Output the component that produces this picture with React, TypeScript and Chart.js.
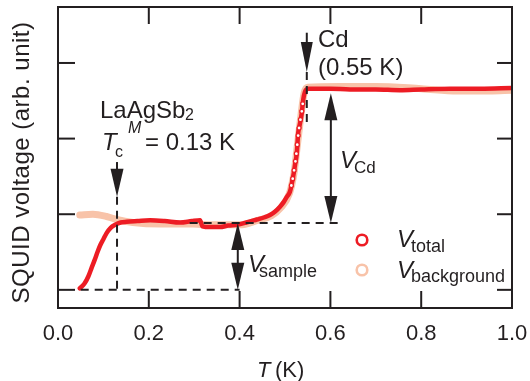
import React, { useEffect, useRef } from "react";
import { Chart, registerables } from "chart.js";

Chart.register(...registerables);

const FONT = '"Liberation Sans", Arial, Helvetica, sans-serif';
const INK = "#231f20";
const RED = "#ed1c24";
const SALMON = "#f8c3a9";

// x tick values (K) and y tick positions (arb. unit, unlabeled)
const xTicks = [0, 0.2, 0.4, 0.6, 0.8, 1.0];
const yTicks = [0, 1, 2, 3];

// V_total (red)
const totalT = [0.048, 0.058, 0.067, 0.074, 0.081, 0.087, 0.093, 0.1, 0.107, 0.116, 0.126, 0.138, 0.151, 0.175, 0.203, 0.235, 0.269, 0.295, 0.313, 0.318, 0.335, 0.357, 0.375, 0.394, 0.415, 0.438, 0.455, 0.467, 0.479, 0.489, 0.497, 0.504, 0.511, 0.518, 0.522, 0.526, 0.529, 0.533, 0.537, 0.54, 0.544, 0.551, 0.6, 0.643, 0.7, 0.753, 0.8, 0.863, 0.93, 0.999];
const totalV = [0.02, 0.08, 0.18, 0.29, 0.4, 0.5, 0.59, 0.67, 0.75, 0.82, 0.86, 0.89, 0.9, 0.91, 0.92, 0.91, 0.89, 0.91, 0.92, 0.84, 0.83, 0.83, 0.85, 0.86, 0.89, 0.93, 0.96, 0.99, 1.04, 1.1, 1.16, 1.23, 1.3, 1.5, 1.65, 1.81, 2.07, 2.2, 2.34, 2.51, 2.62, 2.66, 2.66, 2.65, 2.65, 2.64, 2.65, 2.66, 2.66, 2.67];

// open-circle markers visible on the steep Cd transition
const markT = [0.514, 0.517, 0.52, 0.523, 0.525, 0.527, 0.529, 0.531, 0.534, 0.537, 0.539];
const markV = [1.38, 1.47, 1.58, 1.7, 1.8, 1.92, 2.04, 2.14, 2.25, 2.36, 2.46];

// V_background (salmon)
const bgT = [0.048, 0.077, 0.107, 0.129, 0.165, 0.225, 0.297, 0.34, 0.4, 0.44, 0.47, 0.49, 0.51, 0.52, 0.528, 0.535, 0.542, 0.55, 0.62, 0.7, 0.8, 0.88, 0.95, 1.0];
const bgV = [0.99, 1.0, 0.97, 0.93, 0.89, 0.87, 0.87, 0.86, 0.86, 0.92, 0.98, 1.08, 1.28, 1.55, 1.95, 2.3, 2.6, 2.68, 2.69, 2.69, 2.66, 2.63, 2.63, 2.64];

// annotation values
const tcM = 0.13;
const tCd = 0.548;
const tSample = 0.396;
const tVcd = 0.601;
const vBase = 0;
const vPlateau = 0.885;
const vCd = 2.6;

const pts = (xs: number[], ys: number[]) => xs.map((x, i) => ({ x, y: ys[i] }));

function setFont(ctx: CanvasRenderingContext2D, size: number, italic = false) {
  ctx.font = `${italic ? "italic " : ""}${size}px ${FONT}`;
}

function arrowHead(ctx: CanvasRenderingContext2D, x: number, tip: number, dir: number, len: number, w: number) {
  ctx.beginPath();
  ctx.moveTo(x, tip);
  ctx.lineTo(x - w / 2, tip - dir * len);
  ctx.lineTo(x + w / 2, tip - dir * len);
  ctx.closePath();
  ctx.fill();
}

function line(ctx: CanvasRenderingContext2D, x0: number, y0: number, x1: number, y1: number) {
  ctx.beginPath();
  ctx.moveTo(x0, y0);
  ctx.lineTo(x1, y1);
  ctx.stroke();
}

const overlayPlugin = {
  id: "overlay",
  afterDatasetsDraw(chart: any) {
    const ctx: CanvasRenderingContext2D = chart.ctx;
    const xs = chart.scales.x;
    const ys = chart.scales.y;
    const X = (v: number) => xs.getPixelForValue(v);
    const Y = (v: number) => ys.getPixelForValue(v);
    const { left, right, top, bottom } = chart.chartArea;
    ctx.save();
    ctx.strokeStyle = INK;
    ctx.fillStyle = INK;
    ctx.lineWidth = 2;

    // dashed guides
    ctx.setLineDash([8, 6]);
    line(ctx, X(tcM), Y(1.23), X(tcM), Y(vBase));
    line(ctx, X(0.05), Y(vBase), X(0.4), Y(vBase));
    line(ctx, X(0.29), Y(vPlateau), X(0.62), Y(vPlateau));
    line(ctx, X(tCd), Y(2.88), X(tCd), Y(2.2));
    ctx.setLineDash([]);

    // Tc arrow
    line(ctx, X(tcM), Y(1.69), X(tcM), Y(1.4));
    arrowHead(ctx, X(tcM), Y(1.23), 1, 28, 13);
    // Cd arrow
    line(ctx, X(tCd), Y(3.4), X(tCd), Y(3.1));
    arrowHead(ctx, X(tCd), Y(2.88), 1, 30, 12);
    // V_sample double arrow
    line(ctx, X(tSample), Y(vBase) - 10, X(tSample), Y(vPlateau) + 10);
    arrowHead(ctx, X(tSample), Y(vPlateau), -1, 27, 13);
    arrowHead(ctx, X(tSample), Y(vBase), 1, 27, 13);
    // V_Cd double arrow
    line(ctx, X(tVcd), Y(vPlateau) - 10, X(tVcd), Y(vCd) + 10);
    arrowHead(ctx, X(tVcd), Y(vCd), -1, 27, 13);
    arrowHead(ctx, X(tVcd), Y(vPlateau), 1, 27, 13);

    // frame
    ctx.strokeRect(left, top, right - left, bottom - top);
    // inward ticks
    xTicks.slice(1, -1).forEach((t) => {
      line(ctx, X(t), bottom, X(t), bottom - 17);
      line(ctx, X(t), top, X(t), top + 17);
    });
    yTicks.forEach((v) => {
      line(ctx, left, Y(v), left + 17, Y(v));
      line(ctx, right, Y(v), right - 15, Y(v));
    });

    // texts
    ctx.textBaseline = "alphabetic";
    ctx.textAlign = "left";
    setFont(ctx, 24);
    ctx.fillText("LaAgSb", 100, 118);
    setFont(ctx, 16);
    ctx.fillText("2", 185, 120);
    setFont(ctx, 24, true);
    ctx.fillText("T", 102, 150);
    setFont(ctx, 16);
    ctx.fillText("c", 115, 157);
    setFont(ctx, 16, true);
    ctx.fillText("M", 128, 133);
    setFont(ctx, 24);
    ctx.fillText("= 0.13 K", 145, 150);

    ctx.fillText("Cd", 318, 47);
    ctx.fillText("(0.55 K)", 318, 75);

    setFont(ctx, 24, true);
    ctx.fillText("V", 340, 168);
    setFont(ctx, 17);
    ctx.fillText("Cd", 354, 173);

    setFont(ctx, 24, true);
    ctx.fillText("V", 248, 272);
    setFont(ctx, 18);
    ctx.fillText("sample", 259, 277);

    // legend
    ctx.lineWidth = 2.6;
    ctx.strokeStyle = RED;
    ctx.beginPath();
    ctx.arc(362, 240, 5.3, 0, Math.PI * 2);
    ctx.stroke();
    ctx.strokeStyle = SALMON;
    ctx.beginPath();
    ctx.arc(362, 270, 5.3, 0, Math.PI * 2);
    ctx.stroke();
    ctx.fillStyle = INK;
    setFont(ctx, 24, true);
    ctx.fillText("V", 397, 247);
    ctx.fillText("V", 397, 278);
    setFont(ctx, 18);
    ctx.fillText("total", 411, 252);
    ctx.fillText("background", 411, 282);

    // axis titles
    setFont(ctx, 22, true);
    ctx.fillText("T", 257, 377);
    setFont(ctx, 22);
    ctx.fillText("(K)", 275, 377);

    ctx.save();
    ctx.translate(29, 162.5);
    ctx.rotate(-Math.PI / 2);
    ctx.textAlign = "center";
    setFont(ctx, 24);
    (ctx as any).letterSpacing = "0.5px";
    ctx.fillText("SQUID voltage (arb. unit)", 0, 0);
    ctx.restore();

    ctx.restore();
  },
};

export default function App() {
  const ref = useRef<HTMLCanvasElement>(null);
  useEffect(() => {
    const canvas = ref.current!;
    const chart = new Chart(canvas, {
      type: "scatter",
      data: {
        datasets: [
          {
            label: "marks",
            data: pts(markT, markV),
            showLine: false,
            pointRadius: 2,
            pointBackgroundColor: "#ffffff",
            pointBorderColor: RED,
            pointBorderWidth: 1.2,
          },
          {
            label: "V_total",
            data: pts(totalT, totalV),
            showLine: true,
            borderColor: RED,
            borderWidth: 4.5,
            borderCapStyle: "round",
            borderJoinStyle: "round",
            cubicInterpolationMode: "monotone",
            pointRadius: 0,
          },
          {
            label: "V_background",
            data: pts(bgT, bgV),
            showLine: true,
            borderColor: SALMON,
            borderWidth: 7,
            borderCapStyle: "round",
            borderJoinStyle: "round",
            cubicInterpolationMode: "monotone",
            pointRadius: 0,
          },
        ],
      },
      options: {
        responsive: false,
        devicePixelRatio: 1,
        animation: false,
        layout: { padding: { left: 58, right: 18, top: 7, bottom: 0 } },
        plugins: { legend: { display: false }, tooltip: { enabled: false } },
        scales: {
          x: {
            type: "linear",
            min: 0,
            max: 1,
            afterBuildTicks: (s: any) => {
              s.ticks = xTicks.map((v) => ({ value: v }));
            },
            afterFit: (s: any) => {
              s.height = 73;
              s.paddingLeft = 0;
              s.paddingRight = 0;
            },
            ticks: {
              font: { family: FONT, size: 22 },
              color: INK,
              padding: 13,
              maxRotation: 0,
              autoSkip: false,
              callback: (v: any) => Number(v).toFixed(1),
            },
            grid: { display: false, drawTicks: false },
            border: { display: false },
          },
          y: { type: "linear", min: -0.24, max: 3.74, display: false },
        },
      },
      plugins: [overlayPlugin],
    } as any);
    return () => chart.destroy();
  }, []);
  return (
    <div style={{ position: "absolute", left: 0, top: 0, width: 530, height: 381, background: "#fff" }}>
      <canvas ref={ref} width={530} height={381} style={{ width: 530, height: 381, display: "block" }} />
    </div>
  );
}
